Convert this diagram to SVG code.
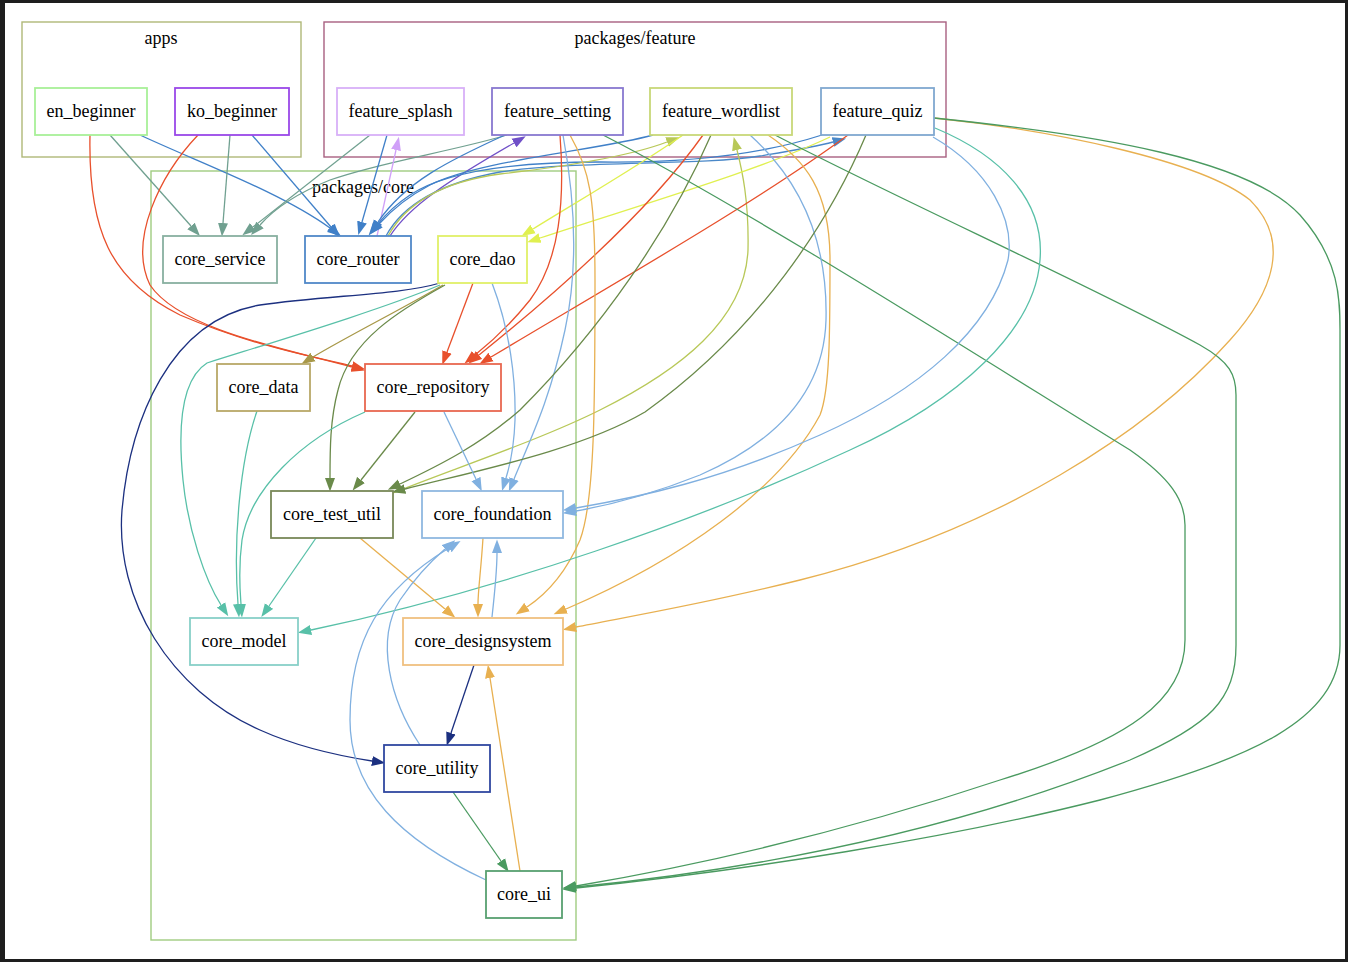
<svg xmlns="http://www.w3.org/2000/svg" width="1348" height="962" viewBox="0 0 1348 962">
<style>
text{font-family:"Liberation Serif","Times New Roman",serif;font-size:18px;fill:#000;text-anchor:middle}
.cl{fill:none;stroke-width:1.4}
.nd rect{fill:#fff;stroke-width:1.8}
.ed path{fill:none;stroke-width:1.3}
.svc{stroke:#70a090}.rtr{stroke:#4080c8}.rep{stroke:#e8502c}.spl{stroke:#d0a0f8}.set{stroke:#7050c8}
.wl{stroke:#b8c858}.qz{stroke:#4a88c8}.dao{stroke:#e0f050}.dat{stroke:#a89848}.tu{stroke:#6a8a4a}
.fd{stroke:#80b0e0}.mdl{stroke:#58c0a8}.ds{stroke:#e8b050}.ut{stroke:#1c3080}.ui{stroke:#4a9a60}
</style>
<defs>
<marker id="m-svc" markerWidth="14" markerHeight="11" refX="0" refY="5.5" orient="auto" markerUnits="userSpaceOnUse"><path d="M0,0.5L13.5,5.5L0,10.5z" fill="#70a090"/></marker>
<marker id="m-rtr" markerWidth="14" markerHeight="11" refX="0" refY="5.5" orient="auto" markerUnits="userSpaceOnUse"><path d="M0,0.5L13.5,5.5L0,10.5z" fill="#4080c8"/></marker>
<marker id="m-rep" markerWidth="14" markerHeight="11" refX="0" refY="5.5" orient="auto" markerUnits="userSpaceOnUse"><path d="M0,0.5L13.5,5.5L0,10.5z" fill="#e8502c"/></marker>
<marker id="m-spl" markerWidth="14" markerHeight="11" refX="0" refY="5.5" orient="auto" markerUnits="userSpaceOnUse"><path d="M0,0.5L13.5,5.5L0,10.5z" fill="#d0a0f8"/></marker>
<marker id="m-set" markerWidth="14" markerHeight="11" refX="0" refY="5.5" orient="auto" markerUnits="userSpaceOnUse"><path d="M0,0.5L13.5,5.5L0,10.5z" fill="#7050c8"/></marker>
<marker id="m-wl" markerWidth="14" markerHeight="11" refX="0" refY="5.5" orient="auto" markerUnits="userSpaceOnUse"><path d="M0,0.5L13.5,5.5L0,10.5z" fill="#b8c858"/></marker>
<marker id="m-qz" markerWidth="14" markerHeight="11" refX="0" refY="5.5" orient="auto" markerUnits="userSpaceOnUse"><path d="M0,0.5L13.5,5.5L0,10.5z" fill="#4a88c8"/></marker>
<marker id="m-dao" markerWidth="14" markerHeight="11" refX="0" refY="5.5" orient="auto" markerUnits="userSpaceOnUse"><path d="M0,0.5L13.5,5.5L0,10.5z" fill="#e0f050"/></marker>
<marker id="m-dat" markerWidth="14" markerHeight="11" refX="0" refY="5.5" orient="auto" markerUnits="userSpaceOnUse"><path d="M0,0.5L13.5,5.5L0,10.5z" fill="#a89848"/></marker>
<marker id="m-tu" markerWidth="14" markerHeight="11" refX="0" refY="5.5" orient="auto" markerUnits="userSpaceOnUse"><path d="M0,0.5L13.5,5.5L0,10.5z" fill="#6a8a4a"/></marker>
<marker id="m-fd" markerWidth="14" markerHeight="11" refX="0" refY="5.5" orient="auto" markerUnits="userSpaceOnUse"><path d="M0,0.5L13.5,5.5L0,10.5z" fill="#80b0e0"/></marker>
<marker id="m-mdl" markerWidth="14" markerHeight="11" refX="0" refY="5.5" orient="auto" markerUnits="userSpaceOnUse"><path d="M0,0.5L13.5,5.5L0,10.5z" fill="#58c0a8"/></marker>
<marker id="m-ds" markerWidth="14" markerHeight="11" refX="0" refY="5.5" orient="auto" markerUnits="userSpaceOnUse"><path d="M0,0.5L13.5,5.5L0,10.5z" fill="#e8b050"/></marker>
<marker id="m-ut" markerWidth="14" markerHeight="11" refX="0" refY="5.5" orient="auto" markerUnits="userSpaceOnUse"><path d="M0,0.5L13.5,5.5L0,10.5z" fill="#1c3080"/></marker>
<marker id="m-ui" markerWidth="14" markerHeight="11" refX="0" refY="5.5" orient="auto" markerUnits="userSpaceOnUse"><path d="M0,0.5L13.5,5.5L0,10.5z" fill="#4a9a60"/></marker>
</defs>
<rect x="0" y="0" width="1348" height="962" fill="#1e1e1e"/>
<rect x="5" y="3" width="1340" height="956" fill="#fff"/>

<g id="clusters">
<g id="cluster_apps"><rect class="cl" x="22" y="22" width="279" height="135" stroke="#b0b878"/><text x="161" y="44">apps</text></g>
<g id="cluster_feature"><rect class="cl" x="324" y="22" width="622" height="135" stroke="#a86080"/><text x="635" y="44">packages/feature</text></g>
<g id="cluster_core"><rect class="cl" x="151" y="171" width="425" height="769" stroke="#a0cc80" stroke-width="1.8"/><text x="363" y="193">packages/core</text></g>
</g>

<g id="edges" class="ed">
<path class="svc" marker-end="url(#m-svc)" d="M110,135 L191,226"/>
<path class="rtr" marker-end="url(#m-rtr)" d="M140,135 C200,163 280,192 330,228"/>
<path class="rep" marker-end="url(#m-rep)" d="M90,135 C88,230 110,280 180,315 C250,345 310,356 352,366"/>
<path class="svc" marker-end="url(#m-svc)" d="M230,135 L223,223"/>
<path class="rtr" marker-end="url(#m-rtr)" d="M252,135 L331,227"/>
<path class="rep" marker-end="url(#m-rep)" d="M198,135 C160,175 128,240 150,285 C180,330 290,350 352,367"/>
<path class="svc" marker-end="url(#m-svc)" d="M370,135 L253,227"/>
<path class="svc" marker-end="url(#m-svc)" d="M507,135 C450,152 380,162 330,180 C300,192 275,208 260,225"/>
<path class="rtr" marker-end="url(#m-rtr)" d="M387,135 L362,222"/>
<path class="spl" marker-end="url(#m-spl)" d="M377,236 L396,150"/>
<path class="rtr" marker-end="url(#m-rtr)" d="M505,135 C450,160 405,182 378,222"/>
<path class="set" marker-end="url(#m-set)" d="M390,236 C410,205 450,180 514,143"/>
<path class="rtr" marker-end="url(#m-rtr)" d="M653,135 C600,150 480,160 430,185 C405,198 390,212 379,224"/>
<path class="rtr" marker-end="url(#m-rtr)" d="M822,135 C760,155 680,163 600,162 C500,162 440,175 410,195 C395,205 385,215 377,225"/>
<path class="qz" marker-end="url(#m-qz)" d="M386,236 C400,210 430,185 500,172 C580,160 700,166 760,156 C790,151 815,147 833,142"/>
<path class="wl" marker-end="url(#m-wl)" d="M388,236 C405,205 440,182 500,174 C570,166 630,156 667,142"/>
<path class="wl" marker-end="url(#m-wl)" d="M393,493 C450,470 540,440 600,410 C680,370 745,320 748,250 C749,200 742,170 737,150"/>
<path class="dao" marker-end="url(#m-dao)" d="M683,135 C640,165 580,200 533,229"/>
<path class="dao" marker-end="url(#m-dao)" d="M830,137 C760,170 640,205 540,238"/>
<path class="rep" marker-end="url(#m-rep)" d="M560,135 C565,200 560,260 530,300 C510,325 490,343 475,355"/>
<path class="rep" marker-end="url(#m-rep)" d="M703,135 C650,210 560,290 479,355"/>
<path class="rep" marker-end="url(#m-rep)" d="M848,135 C760,200 620,280 491,357"/>
<path class="rep" marker-end="url(#m-rep)" d="M473,283 L447,352"/>
<path class="fd" marker-end="url(#m-fd)" d="M563,135 C575,200 578,270 565,330 C550,400 530,440 514,479"/>
<path class="fd" marker-end="url(#m-fd)" d="M492,283 C510,330 516,380 515,420 C514,450 510,465 506,478"/>
<path class="ds" marker-end="url(#m-ds)" d="M570,135 C590,170 595,200 595,280 C595,400 595,500 580,540 C565,575 545,595 527,607"/>
<path class="ds" marker-end="url(#m-ds)" d="M768,135 C805,160 830,190 830,260 C830,330 830,390 820,415 C780,490 680,560 566,609"/>
<path class="ds" marker-end="url(#m-ds)" d="M934,118 C1050,130 1200,160 1250,200 C1290,240 1275,290 1230,340 C1150,430 1000,530 800,580 C700,605 620,618 576,627"/>
<path class="ui" marker-end="url(#m-ui)" d="M934,118 C1100,135 1250,160 1300,215 C1340,260 1340,300 1340,330 L1340,645 C1340,720 1250,760 1100,800 C950,838 750,870 576,888"/>
<path class="ui" marker-end="url(#m-ui)" d="M775,135 C900,200 1100,290 1200,345 C1230,362 1236,375 1236,395 L1236,645 C1236,700 1210,725 1130,760 C1030,800 850,860 576,887"/>
<path class="ui" marker-end="url(#m-ui)" d="M603,135 C750,210 1000,370 1130,450 C1170,478 1185,500 1185,525 L1185,640 C1185,700 1130,740 1000,780 C850,830 700,865 576,886"/>
<path class="mdl" marker-end="url(#m-mdl)" d="M935,128 C1000,155 1045,200 1040,260 C1035,330 960,400 850,450 C700,520 500,590 311,630"/>
<path class="fd" marker-end="url(#m-fd)" d="M933,137 C990,170 1015,220 1008,260 C990,330 920,390 820,435 C720,480 640,497 576,508"/>
<path class="fd" marker-end="url(#m-fd)" d="M750,135 C800,180 828,240 826,320 C824,390 780,440 700,475 C650,495 610,505 576,511"/>
<path class="ut" marker-end="url(#m-ut)" d="M440,283 C400,295 330,295 260,305 C170,320 130,420 122,510 C115,600 170,690 260,730 C300,748 340,756 372,761"/>
<path class="mdl" marker-end="url(#m-mdl)" d="M440,285 C380,310 280,340 207,363 C180,380 178,430 183,480 C188,530 205,580 221,605"/>
<path class="dat" marker-end="url(#m-dat)" d="M443,285 C400,310 350,335 313,357"/>
<path class="tu" marker-end="url(#m-tu)" d="M445,285 C400,310 350,340 338,390 C330,420 330,450 330,478"/>
<path class="mdl" marker-end="url(#m-mdl)" d="M257,411 C240,460 233,540 238,604"/>
<path class="mdl" marker-end="url(#m-mdl)" d="M365,412 C300,440 250,490 242,540 C238,570 240,590 241,604"/>
<path class="tu" marker-end="url(#m-tu)" d="M415,412 L361,480"/>
<path class="tu" marker-end="url(#m-tu)" d="M711,135 C670,230 600,330 520,410 C480,445 440,465 400,484"/>
<path class="tu" marker-end="url(#m-tu)" d="M866,135 C830,220 760,330 645,412 C580,450 480,470 405,489"/>
<path class="fd" marker-end="url(#m-fd)" d="M444,412 L476,479"/>
<path class="mdl" marker-end="url(#m-mdl)" d="M316,538 L269,606"/>
<path class="ds" marker-end="url(#m-ds)" d="M360,538 L445,609"/>
<path class="ds" marker-end="url(#m-ds)" d="M483,538 C481,570 478,590 478,604"/>
<path class="fd" marker-end="url(#m-fd)" d="M492,617 C495,590 497,570 497,553"/>
<path class="fd" marker-end="url(#m-fd)" d="M420,745 C390,700 375,640 400,600 C415,578 430,562 445,549"/>
<path class="fd" marker-end="url(#m-fd)" d="M486,880 C400,840 350,790 350,720 C350,640 380,590 449,548"/>
<path class="ut" marker-end="url(#m-ut)" d="M474,665 L451,733"/>
<path class="ui" marker-end="url(#m-ui)" d="M453,792 L501,861"/>
<path class="ds" marker-end="url(#m-ds)" d="M520,871 L490,678"/>
</g>

<g id="en_beginner" class="nd"><rect x="35" y="88" width="112" height="47" stroke="#a8f098"/><text x="91" y="117">en_beginner</text></g>
<g id="ko_beginner" class="nd"><rect x="175" y="88" width="114" height="47" stroke="#9a48e8"/><text x="232" y="117">ko_beginner</text></g>
<g id="feature_splash" class="nd"><rect x="337" y="88" width="127" height="47" stroke="#d8b0f8"/><text x="400.5" y="117">feature_splash</text></g>
<g id="feature_setting" class="nd"><rect x="492" y="88" width="131" height="47" stroke="#8878d0"/><text x="557.5" y="117">feature_setting</text></g>
<g id="feature_wordlist" class="nd"><rect x="650" y="88" width="142" height="47" stroke="#c8d878"/><text x="721" y="117">feature_wordlist</text></g>
<g id="feature_quiz" class="nd"><rect x="821" y="88" width="113" height="47" stroke="#80a8d0"/><text x="877.5" y="117">feature_quiz</text></g>
<g id="core_service" class="nd"><rect x="163" y="236" width="114" height="47" stroke="#88b0a0"/><text x="220" y="265">core_service</text></g>
<g id="core_router" class="nd"><rect x="305" y="236" width="106" height="47" stroke="#5088c8"/><text x="358" y="265">core_router</text></g>
<g id="core_dao" class="nd"><rect x="438" y="236" width="89" height="47" stroke="#e0f068"/><text x="482.5" y="265">core_dao</text></g>
<g id="core_data" class="nd"><rect x="217" y="364" width="93" height="47" stroke="#b8a868"/><text x="263.5" y="393">core_data</text></g>
<g id="core_repository" class="nd"><rect x="365" y="364" width="136" height="47" stroke="#e86850"/><text x="433" y="393">core_repository</text></g>
<g id="core_test_util" class="nd"><rect x="271" y="491" width="122" height="47" stroke="#788858"/><text x="332" y="520">core_test_util</text></g>
<g id="core_foundation" class="nd"><rect x="422" y="491" width="141" height="47" stroke="#90b8e0"/><text x="492.5" y="520">core_foundation</text></g>
<g id="core_model" class="nd"><rect x="190" y="618" width="108" height="47" stroke="#88d0c8"/><text x="244" y="647">core_model</text></g>
<g id="core_designsystem" class="nd"><rect x="403" y="618" width="160" height="47" stroke="#f0c080"/><text x="483" y="647">core_designsystem</text></g>
<g id="core_utility" class="nd"><rect x="384" y="745" width="106" height="47" stroke="#3048a0"/><text x="437" y="774">core_utility</text></g>
<g id="core_ui" class="nd"><rect x="486" y="871" width="76" height="47" stroke="#58a070"/><text x="524" y="900">core_ui</text></g>
</svg>
